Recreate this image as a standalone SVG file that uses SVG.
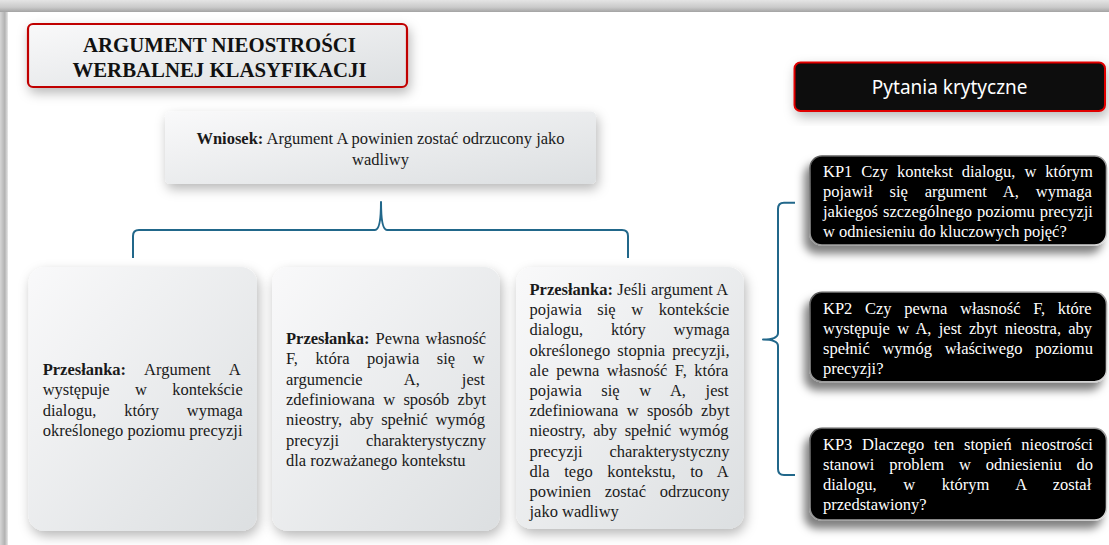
<svg xmlns="http://www.w3.org/2000/svg" width="1109" height="545" viewBox="0 0 1109 545">
<defs>
<linearGradient id="topband" x1="0" y1="0" x2="0" y2="1"><stop offset="0" stop-color="#e4e4e4"/><stop offset="0.6" stop-color="#cacaca"/><stop offset="1" stop-color="#a3a3a3"/></linearGradient>
<linearGradient id="leftband" x1="0" y1="0" x2="1" y2="0"><stop offset="0" stop-color="#d6d6d6"/><stop offset="0.6" stop-color="#b2b2b2"/><stop offset="1" stop-color="#e8e8e8"/></linearGradient>
<linearGradient id="lite" x1="0" y1="0" x2="1" y2="1"><stop offset="0" stop-color="#f9f9fa"/><stop offset="1" stop-color="#dcdfe1"/></linearGradient>
<linearGradient id="rim" x1="0" y1="0" x2="1" y2="1"><stop offset="0" stop-color="#5a5a5a"/><stop offset="1" stop-color="#d8d8d8"/></linearGradient>
<filter id="sh" x="-20%" y="-20%" width="140%" height="150%"><feDropShadow dx="2" dy="5" stdDeviation="6" flood-color="#000" flood-opacity="0.28"/></filter>
<filter id="shk" x="-20%" y="-20%" width="140%" height="160%"><feDropShadow dx="-5" dy="8" stdDeviation="4" flood-color="#000" flood-opacity="0.5"/></filter>
</defs>
<style>
.box{fill:url(#lite);filter:url(#sh)}
.kp{fill:#000;stroke:url(#rim);stroke-width:1.6;filter:url(#shk)}
.t{font-family:"Liberation Serif","Times New Roman",serif;font-size:16.5px;fill:#1a1a1a}
.k{font-family:"Liberation Serif","Times New Roman",serif;font-size:16.5px;fill:#fff}
.b{font-weight:bold}
.c{text-anchor:middle}
.brace{fill:none;stroke:#21678a;stroke-width:2;stroke-linejoin:round}
</style>

<rect width="1109" height="545" fill="#d9d9d9"/>
<rect x="0" y="0" width="1109" height="12" fill="url(#topband)"/>
<rect x="0" y="12" width="8" height="533" fill="url(#leftband)"/>
<rect x="8" y="12" width="1101" height="533" fill="#ffffff"/>

<g id="title">
<rect x="28" y="24" width="379" height="63" rx="5" fill="url(#lite)" stroke="#c00000" stroke-width="2.2" filter="url(#sh)"/>
<text class="t b c" x="219.5" y="52.3" style="font-size:20.8px;fill:#111">ARGUMENT NIEOSTROŚCI</text>
<text class="t b c" x="219.5" y="77.3" style="font-size:20.8px;fill:#111">WERBALNEJ KLASYFIKACJI</text>
</g>

<g id="conclusion">
<rect class="box" x="165" y="111.5" width="431" height="72.5" rx="5"/>
<text class="t c" x="380.5" y="143.5"><tspan class="b">Wniosek:</tspan> Argument A powinien zostać odrzucony jako</text>
<text class="t c" x="380.5" y="164.5">wadliwy</text>
</g>

<g id="connectors">
<path class="brace" d="M133,258 L133,236 Q133,230 139,230 L375,230 Q381,230 381,202 Q381,230 387,230 L622,230 Q628,230 628,236 L628,258"/>
<path class="brace" d="M795,202.7 L784,202.7 Q778,202.7 778,209 L778,333 Q778,339.5 763,339.5 Q778,339.5 778,346 L778,469 Q778,475 784,475 L795,475"/>
</g>

<g id="premise1">
<rect class="box" x="28.5" y="267" width="228.5" height="264" rx="16"/>
<text class="t" x="42.7" y="375" style="word-spacing:14.76px"><tspan class="b">Przesłanka:</tspan> Argument A</text>
<text class="t" x="42.7" y="395.3" style="word-spacing:21.2px">występuje w kontekście</text>
<text class="t" x="42.7" y="415.6" style="word-spacing:23.7px">dialogu, który wymaga</text>
<text class="t" x="42.7" y="435.9">określonego poziomu precyzji</text>
</g>

<g id="premise2">
<rect class="box" x="272" y="267" width="228" height="264" rx="16"/>
<text class="t" x="286" y="344" style="word-spacing:1.95px"><tspan class="b">Przesłanka:</tspan> Pewna własność</text>
<text class="t" x="286" y="364.3" style="word-spacing:13.45px">F, która pojawia się w</text>
<text class="t" x="286" y="384.6" style="word-spacing:37.9px">argumencie A, jest</text>
<text class="t" x="286" y="404.9" style="word-spacing:4.2px">zdefiniowana w sposób zbyt</text>
<text class="t" x="286" y="425.2" style="word-spacing:3.43px">nieostry, aby spełnić wymóg</text>
<text class="t" x="286" y="445.5" style="word-spacing:22.7px">precyzji charakterystyczny</text>
<text class="t" x="286" y="465.8">dla rozważanego kontekstu</text>
</g>

<g id="premise3">
<rect class="box" x="516" y="267" width="228" height="262" rx="16"/>
<text class="t" x="529.5" y="295" style="word-spacing:0.2px"><tspan class="b">Przesłanka:</tspan> Jeśli argument A</text>
<text class="t" x="529.5" y="315.2" style="word-spacing:11.5px">pojawia się w kontekście</text>
<text class="t" x="529.5" y="335.4" style="word-spacing:23.7px">dialogu, który wymaga</text>
<text class="t" x="529.5" y="355.6" style="word-spacing:3.1px">określonego stopnia precyzji,</text>
<text class="t" x="529.5" y="375.8" style="word-spacing:3.4px">ale pewna własność F, która</text>
<text class="t" x="529.5" y="396" style="word-spacing:15.5px">pojawia się w A, jest</text>
<text class="t" x="529.5" y="416.2" style="word-spacing:4.2px">zdefiniowana w sposób zbyt</text>
<text class="t" x="529.5" y="436.4" style="word-spacing:3.43px">nieostry, aby spełnić wymóg</text>
<text class="t" x="529.5" y="456.6" style="word-spacing:22.7px">precyzji charakterystyczny</text>
<text class="t" x="529.5" y="476.8" style="word-spacing:10.5px">dla tego kontekstu, to A</text>
<text class="t" x="529.5" y="497" style="word-spacing:9.7px">powinien zostać odrzucony</text>
<text class="t" x="529.5" y="517.2">jako wadliwy</text>
</g>

<g id="critical-header">
<rect x="794.5" y="62.5" width="310.5" height="48.5" rx="6" fill="#0d0d0d" stroke="#e00000" stroke-width="2" filter="url(#sh)"/>
<text x="949.7" y="93.5" class="c" style="font-family:'Noto Sans','Liberation Sans',sans-serif;font-size:19px;fill:#fff">Pytania krytyczne</text>
</g>

<g id="kp1">
<rect class="kp" x="810" y="156" width="296.5" height="89" rx="12"/>
<text class="k" x="823" y="177" style="word-spacing:4.86px">KP1 Czy kontekst dialogu, w którym</text>
<text class="k" x="823" y="197" style="word-spacing:12.85px">pojawił się argument A, wymaga</text>
<text class="k" x="823" y="217" style="word-spacing:0.93px">jakiegoś szczególnego poziomu precyzji</text>
<text class="k" x="823" y="237">w odniesieniu do kluczowych pojęć?</text>
</g>

<g id="kp2">
<rect class="kp" x="810" y="292.3" width="296.5" height="89.4" rx="12"/>
<text class="k" x="823" y="314" style="word-spacing:8.54px">KP2 Czy pewna własność F, które</text>
<text class="k" x="823" y="334" style="word-spacing:3.15px">występuje w A, jest zbyt nieostra, aby</text>
<text class="k" x="823" y="354" style="word-spacing:8.57px">spełnić wymóg właściwego poziomu</text>
<text class="k" x="823" y="374">precyzji?</text>
</g>

<g id="kp3">
<rect class="kp" x="810" y="428.3" width="296.5" height="91.7" rx="12"/>
<text class="k" x="823" y="450" style="word-spacing:5.6px">KP3 Dlaczego ten stopień nieostrości</text>
<text class="k" x="823" y="470" style="word-spacing:10.7px">stanowi problem w odniesieniu do</text>
<text class="k" x="823" y="490" style="word-spacing:22.5px">dialogu, w którym A został</text>
<text class="k" x="823" y="510">przedstawiony?</text>
</g>
</svg>
